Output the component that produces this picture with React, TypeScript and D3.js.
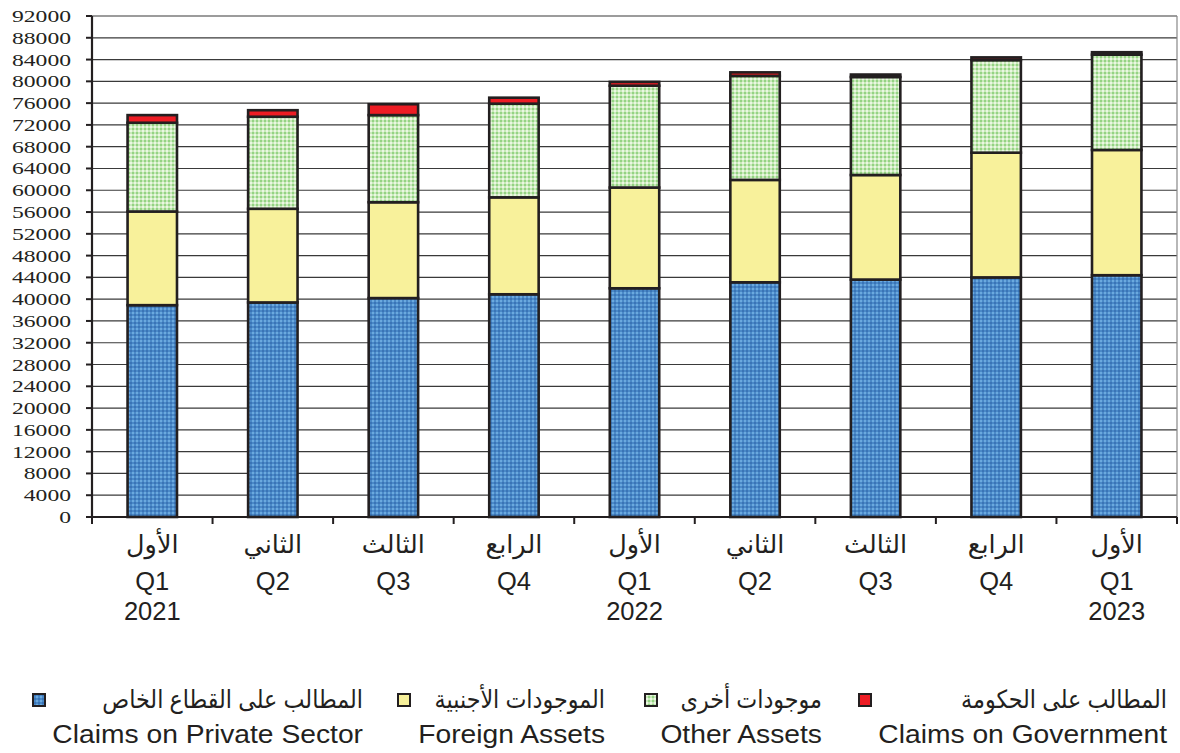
import React, { useEffect, useRef } from 'react';
import * as d3 from 'd3';

// quarter labels (Arabic / English / year)
const quartersAr = ['الأول', 'الثاني', 'الثالث', 'الرابع', 'الأول', 'الثاني', 'الثالث', 'الرابع', 'الأول'];
const quartersEn = ['Q1', 'Q2', 'Q3', 'Q4', 'Q1', 'Q2', 'Q3', 'Q4', 'Q1'];
const years = ['2021', '', '', '', '2022', '', '', '', '2023'];

// series values
const privateSector = [38900, 39400, 40200, 40900, 42000, 43100, 43600, 44000, 44400];
const foreignAssets = [17200, 17200, 17600, 17800, 18500, 18800, 19200, 22900, 23000];
const otherAssets = [16300, 16900, 16000, 17200, 18700, 19100, 18000, 17000, 17500];
const government = [1400, 1200, 2000, 1100, 700, 650, 450, 500, 450];

const seriesKeys = ['private', 'foreign', 'other', 'gov'];
const seriesAr = ['المطالب على القطاع الخاص', 'الموجودات الأجنبية', 'موجودات أخرى', 'المطالب على الحكومة'];
const seriesEn = ['Claims on Private Sector', 'Foreign Assets', 'Other Assets', 'Claims on Government'];

const yTicks = d3.range(0, 92001, 4000);

const W = 1180;
const H = 753;
const INK = '#231f20';
const SANS = "'Liberation Sans', Arial, 'DejaVu Sans', sans-serif";
const SERIF = "'Liberation Serif', 'Times New Roman', serif";

const App: React.FC = () => {
  const svgRef = useRef<SVGSVGElement>(null);

  useEffect(() => {
    if (!svgRef.current) return;
    const svg = d3.select(svgRef.current);
    svg.selectAll('*').remove();

    const margin = { top: 16, right: 3, bottom: 236, left: 92 };
    const plotW = W - margin.left - margin.right;
    const plotH = H - margin.top - margin.bottom;

    // patterns for the dithered fills
    const defs = svg.append('defs');
    const blue = defs.append('pattern').attr('id', 'pBlue').attr('width', 4).attr('height', 4)
      .attr('patternUnits', 'userSpaceOnUse');
    blue.append('rect').attr('width', 4).attr('height', 4).attr('fill', '#4a89c8');
    blue.append('rect').attr('width', 2).attr('height', 2).attr('fill', '#6ba9de');
    blue.append('rect').attr('x', 2).attr('y', 2).attr('width', 2).attr('height', 2).attr('fill', '#3a74b6');

    const green = defs.append('pattern').attr('id', 'pGreen').attr('width', 4).attr('height', 4)
      .attr('patternUnits', 'userSpaceOnUse');
    green.append('rect').attr('width', 4).attr('height', 4).attr('fill', '#c9e9ba');
    green.append('rect').attr('width', 2).attr('height', 2).attr('fill', '#94d383');
    green.append('rect').attr('x', 2).attr('y', 2).attr('width', 2).attr('height', 2).attr('fill', '#eaf7e2');

    const fills: Record<string, string> = {
      private: 'url(#pBlue)',
      foreign: '#f8f19b',
      other: 'url(#pGreen)',
      gov: '#ed1c24',
    };

    const g = svg.append('g').attr('transform', `translate(${margin.left},${margin.top})`);

    const x = d3.scaleBand<number>().domain(d3.range(quartersEn.length)).range([0, plotW]).padding(0);
    const y = d3.scaleLinear().domain([0, 92000]).range([plotH, 0]);
    const barW = x.step() * 0.41;

    // grid lines
    g.append('g')
      .selectAll('line')
      .data(yTicks)
      .enter()
      .append('line')
      .attr('x1', 0)
      .attr('x2', plotW)
      .attr('y1', d => y(d))
      .attr('y2', d => y(d))
      .attr('stroke', '#3a3a3a')
      .attr('stroke-width', 1.2);

    // right border
    g.append('line')
      .attr('x1', plotW).attr('x2', plotW)
      .attr('y1', 0).attr('y2', plotH)
      .attr('stroke', '#888').attr('stroke-width', 1.2);

    // stacked bars
    const rows = quartersEn.map((_, i) => ({
      i,
      private: privateSector[i],
      foreign: foreignAssets[i],
      other: otherAssets[i],
      gov: government[i],
    }));
    const stacked = d3.stack<any>().keys(seriesKeys)(rows);

    stacked.forEach(layer => {
      g.append('g')
        .selectAll('rect')
        .data(layer)
        .enter()
        .append('rect')
        .attr('x', (d: any) => (x(d.data.i) || 0) + (x.bandwidth() - barW) / 2)
        .attr('y', (d: any) => y(d[1]))
        .attr('width', barW)
        .attr('height', (d: any) => y(d[0]) - y(d[1]))
        .attr('fill', fills[layer.key])
        .attr('stroke', INK)
        .attr('stroke-width', 2.6);
    });

    // y axis
    g.append('line')
      .attr('x1', 0).attr('x2', 0).attr('y1', 0).attr('y2', plotH)
      .attr('stroke', INK).attr('stroke-width', 2.2);
    const yt = g.append('g').selectAll('g').data(yTicks).enter().append('g')
      .attr('transform', d => `translate(0,${y(d)})`);
    yt.append('line').attr('x1', -6).attr('x2', 0).attr('stroke', INK).attr('stroke-width', 2);
    yt.append('text')
      .attr('transform', 'translate(-21,6) scale(1.35,1)')
      .attr('text-anchor', 'end')
      .attr('font-family', SERIF)
      .attr('font-size', 17.5)
      .attr('fill', INK)
      .text(d => String(d));

    // x axis
    g.append('line')
      .attr('x1', 0).attr('x2', plotW).attr('y1', plotH).attr('y2', plotH)
      .attr('stroke', INK).attr('stroke-width', 2.2);
    g.append('g').selectAll('line')
      .data(d3.range(quartersEn.length + 1))
      .enter()
      .append('line')
      .attr('x1', d => d * x.step()).attr('x2', d => d * x.step())
      .attr('y1', plotH).attr('y2', plotH + 7)
      .attr('stroke', INK).attr('stroke-width', 2);

    const xl = g.append('g').selectAll('g').data(d3.range(quartersEn.length)).enter().append('g')
      .attr('transform', d => `translate(${(x(d) || 0) + x.bandwidth() / 2},${plotH})`)
      .attr('font-family', SANS)
      .attr('font-size', 25.5)
      .attr('fill', INK)
      .attr('text-anchor', 'middle');
    xl.append('text').attr('y', 36).text(d => quartersAr[d]);
    xl.append('text').attr('y', 73).text(d => quartersEn[d]);
    xl.append('text').attr('y', 103).text(d => years[d]);

    // legend
    const legendRight = [363, 605, 822, 1167];
    const markerX = [33, 398, 645, 859];
    const lg = svg.append('g').attr('font-family', SANS).attr('font-size', 25).attr('fill', INK);
    seriesKeys.forEach((k, i) => {
      lg.append('rect')
        .attr('x', markerX[i]).attr('y', 694).attr('width', 12).attr('height', 12)
        .attr('fill', fills[k]).attr('stroke', INK).attr('stroke-width', 2);
      lg.append('text')
        .attr('transform', `translate(${legendRight[i]},708) scale(0.89,1)`)
        .attr('text-anchor', 'end')
        .text(seriesAr[i]);
      lg.append('text')
        .attr('transform', `translate(${legendRight[i]},743) scale(1.13,1)`)
        .attr('text-anchor', 'end')
        .text(seriesEn[i]);
    });
  }, []);

  return (
    <svg
      ref={svgRef}
      width={W}
      height={H}
      style={{ position: 'absolute', left: 0, top: 0, background: '#fff' }}
    />
  );
};

export default App;
